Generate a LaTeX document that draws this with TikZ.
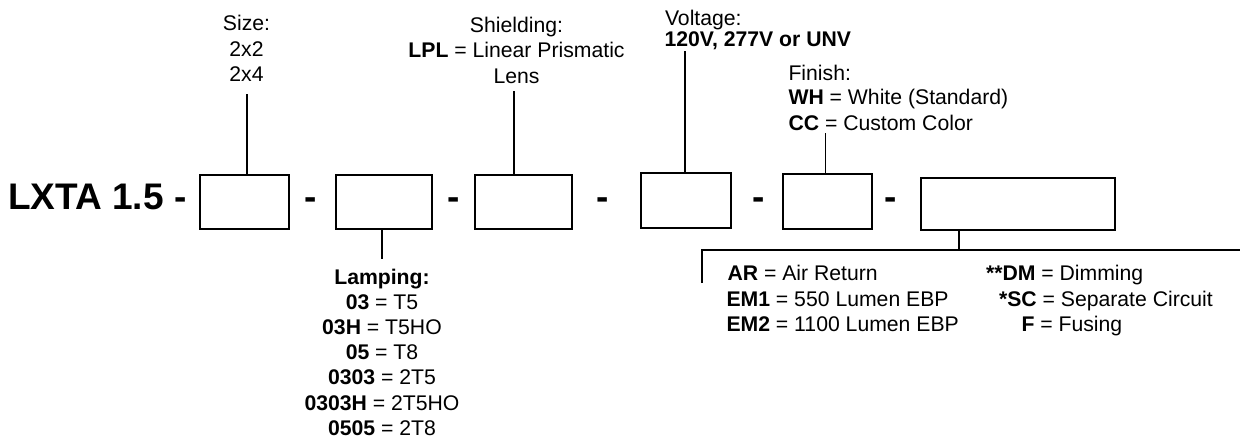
\documentclass[tikz,border=0pt]{standalone}
\usepackage{fontspec}
\setmainfont{Liberation Sans}
\begin{document}
\begin{tikzpicture}[x=0.5pt,y=-0.5pt,
  lbl/.style={inner sep=0pt, outer sep=0pt, anchor=base, font=\fontsize{10.6pt}{12.7pt}\selectfont},
  lblw/.style={lbl, anchor=base west},
  big/.style={inner sep=0pt, outer sep=0pt, anchor=base, font=\fontsize{18.5pt}{22pt}\selectfont\bfseries},
  codebox/.style={draw, line width=1pt, inner sep=0pt, outer sep=0pt},
  lead/.style={line width=0.9pt}]
\useasboundingbox (0,0) rectangle (1240,439);
\fill[white] (0,0) rectangle (1240,439);

% part number and separators
\node[big, anchor=base west] (pn) at (8.3,209.5) {LXTA 1.5 -};
\node[big] (d1) at (311,209.5) {-};
\node[big] (d2) at (453.8,209.5) {-};
\node[big] (d3) at (602.5,209.5) {-};
\node[big] (d4) at (758.8,209.5) {-};
\node[big] (d5) at (890.8,209.5) {-};

% code boxes
\node[codebox, minimum width=44.5pt, minimum height=27pt] (b1) at (244.5,202) {};
\node[codebox, minimum width=48pt, minimum height=27pt] (b2) at (384,202) {};
\node[codebox, minimum width=48.5pt, minimum height=27pt] (b3) at (523.5,202) {};
\node[codebox, minimum width=45pt, minimum height=27.5pt] (b4) at (686,200.5) {};
\node[codebox, minimum width=44.5pt, minimum height=27.5pt] (b5) at (827.5,201.5) {};
\node[codebox, minimum width=97pt, minimum height=26pt] (b6) at (1018,204) {};

% Size
\node[lbl] (sz1) at (246.5,30.7) {Size:};
\node[lbl] (sz2) at (246.5,56) {2x2};
\node[lbl] (sz3) at (246.5,81.5) {2x4};
\coordinate (szTop) at (247,94);
\draw[lead] (szTop) -- (szTop |- b1.north);

% Lamping
\coordinate (lpEnd) at (382,259);
\draw[lead] (lpEnd |- b2.south) -- (lpEnd);
\node[lbl] (lp1) at (382,284) {\textbf{Lamping:}};
\node[lbl] (lp2) at (382,309.3) {\textbf{03} = T5};
\node[lbl] (lp3) at (382,334.5) {\textbf{03H} = T5HO};
\node[lbl] (lp4) at (382,359.7) {\textbf{05} = T8};
\node[lbl] (lp5) at (382,384.9) {\textbf{0303} = 2T5};
\node[lbl] (lp6) at (382,410.1) {\textbf{0303H} = 2T5HO};
\node[lbl] (lp7) at (382,435.3) {\textbf{0505} = 2T8};

% Shielding
\node[lbl] (sh1) at (516.5,32.3) {Shielding:};
\node[lbl] (sh2) at (516.5,57.5) {\textbf{LPL} = Linear Prismatic};
\node[lbl] (sh3) at (516.5,83) {Lens};
\coordinate (shTop) at (514,91);
\draw[lead] (shTop) -- (shTop |- b3.north);

% Voltage
\node[lblw] (vo1) at (665,25.7) {Voltage:};
\node[lblw] (vo2) at (664.5,46.7) {\textbf{120V, 277V or UNV}};
\coordinate (voTop) at (685,51);
\draw[lead] (voTop) -- (voTop |- b4.north);

% Finish
\node[lblw] (fi1) at (788.5,80) {Finish:};
\node[lblw] (fi2) at (788.5,104) {\textbf{WH} = White (Standard)};
\node[lblw] (fi3) at (788.5,130) {\textbf{CC} = Custom Color};
\coordinate (fiTop) at (825.5,133);
\draw[lead] (fiTop) -- (fiTop |- b5.north);

% Options
\coordinate (opJ) at (959,250);
\coordinate (opL) at (702,250);
\coordinate (opR) at (1241,250);
\coordinate (opB) at (702,283);
\draw[lead] (opJ |- b6.south) -- (opJ);
\draw[lead] (opB) -- (opL) -- (opR);
\node[lblw] (op1) at (727.5,280.5) {\textbf{AR} = Air Return};
\node[lblw] (op2) at (726.5,306) {\textbf{EM1} = 550 Lumen EBP};
\node[lblw] (op3) at (726.5,331.7) {\textbf{EM2} = 1100 Lumen EBP};
\node[lblw] (op4) at (986,280.5) {\textbf{**DM} = Dimming};
\node[lblw] (op5) at (999,306) {\textbf{*SC} = Separate Circuit};
\node[lblw] (op6) at (1021.5,331.7) {\textbf{F} = Fusing};
\end{tikzpicture}
\end{document}
